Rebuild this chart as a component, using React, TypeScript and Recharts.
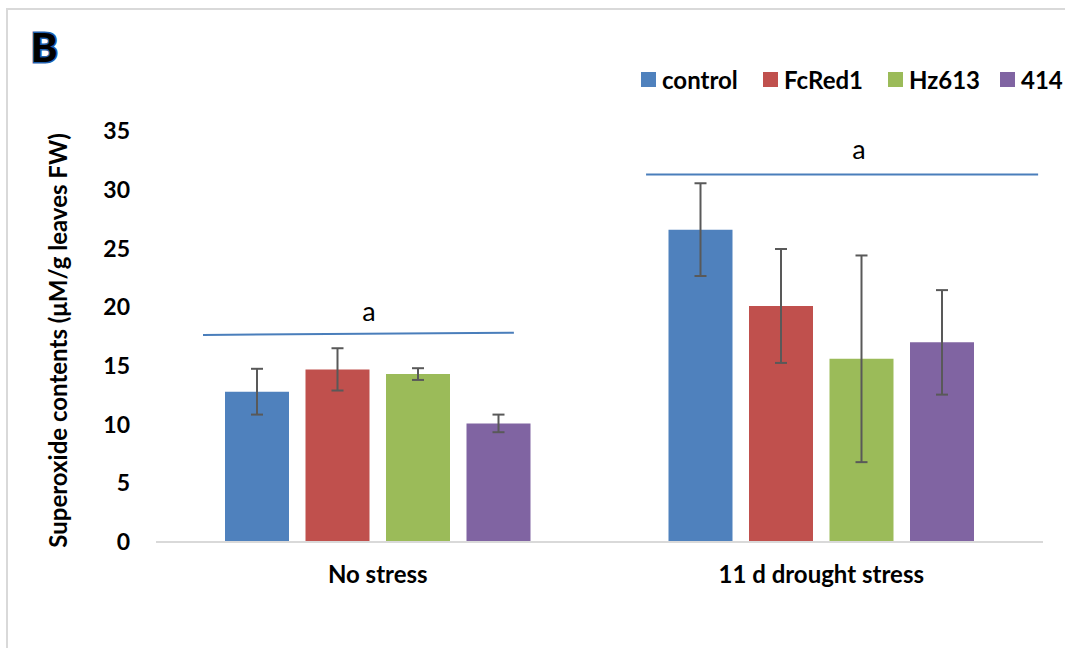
import React from 'react';
import { BarChart, Bar, XAxis, YAxis, ErrorBar, Legend, ReferenceLine, ReferenceDot } from 'recharts';

const categories = ['No stress', '11 d drought stress'];
const seriesNames = ['control', 'FcRed1', 'Hz613', '414'];
const controlValues = [12.8, 26.6];
const controlErrors = [1.95, 3.95];
const fcred1Values = [14.7, 20.1];
const fcred1Errors = [1.8, 4.85];
const hz613Values = [14.3, 15.6];
const hz613Errors = [0.5, 8.8];
const s414Values = [10.1, 17.0];
const s414Errors = [0.75, 4.45];
const yTicks = [0, 5, 10, 15, 20, 25, 30, 35];
const yLabel = 'Superoxide contents (μM/g leaves FW)';
const panelLetter = 'B';
const sigLetter = 'a';
// significance brackets, in (group position 0..2, value) units
const sigLines = [
  { x1: 0.106, y1: 17.63, x2: 0.807, y2: 17.82, lx: 0.48, ly: 19.67 },
  { x1: 1.105, y1: 31.3, x2: 1.989, y2: 31.3, lx: 1.585, ly: 33.47 },
];
const groupPositions = [0.5, 1.5];

const colors = ['#4f81bd', '#c0504d', '#9bbb59', '#8064a2'];
const legendItemWidths = [122, 125, 112, 60];
const FONT = 'Lato, "Open Sans", sans-serif';

const data = categories.map((c, i) => ({
  name: c,
  pos: groupPositions[i],
  control: controlValues[i],
  controlErr: controlErrors[i],
  FcRed1: fcred1Values[i],
  FcRed1Err: fcred1Errors[i],
  Hz613: hz613Values[i],
  Hz613Err: hz613Errors[i],
  s414: s414Values[i],
  s414Err: s414Errors[i],
}));

const keys = ['control', 'FcRed1', 'Hz613', 's414'];

const LegendContent = () => (
  <div style={{ display: 'flex', alignItems: 'center', fontFamily: FONT, fontWeight: 700, fontSize: 24, color: '#000', whiteSpace: 'nowrap' }}>
    {seriesNames.map((n, i) => (
      <div key={n} style={{ display: 'flex', alignItems: 'center', width: legendItemWidths[i] }}>
        <div style={{ width: 15, height: 15, background: colors[i], marginRight: 6, flexShrink: 0 }} />
        <span>{n}</span>
      </div>
    ))}
  </div>
);

const YLabel = (props: any) => {
  const vb = props.viewBox || {};
  const cx = vb.x - 39;
  const cy = vb.y + vb.height / 2 + 4;
  return (
    <text x={cx} y={cy} transform={`rotate(-90, ${cx}, ${cy})`} textAnchor="middle" dominantBaseline="central"
      style={{ fontFamily: FONT, fontWeight: 700, fontSize: 24, fill: '#000' }}>
      {yLabel}
    </text>
  );
};

export default function App() {
  return (
    <div style={{ position: 'absolute', left: 0, top: 0, width: 1065, height: 648, background: '#fff', overflow: 'hidden' }}>
      <div style={{ position: 'absolute', left: 6, top: 8, width: 1100, height: 700, borderLeft: '2px solid #d9d9d9', borderTop: '2px solid #d9d9d9' }} />
      <svg style={{ position: 'absolute', left: 0, top: 0 }} width={120} height={100}>
        <text x={31} y={62} style={{ fontFamily: FONT, fontWeight: 900, fontSize: 40, fill: '#000', stroke: '#1f5fae', strokeWidth: 3, paintOrder: 'stroke' }}>{panelLetter}</text>
      </svg>
      <BarChart width={1065} height={648} data={data} margin={{ top: 131, right: 22, bottom: 76, left: 96 }}
        barSize={64} barGap={16.5} style={{ position: 'absolute', left: 0, top: 0 }}>
        <XAxis dataKey="name" axisLine={{ stroke: '#d9d9d9', strokeWidth: 2 }} tickLine={false} height={30} tickMargin={18}
          tick={{ fontFamily: FONT, fontWeight: 700, fontSize: 24, fill: '#000' }} />
        <XAxis xAxisId="num" dataKey="pos" type="number" domain={[0, 2]} allowDataOverflow hide />
        <YAxis domain={[0, 35]} ticks={yTicks} axisLine={false} tickLine={false} width={60} tickMargin={20}
          tick={{ fontFamily: FONT, fontWeight: 700, fontSize: 23, fill: '#000' }} label={<YLabel />} />
        <Legend layout="vertical" align="center" verticalAlign="middle" content={<LegendContent />}
          wrapperStyle={{ top: 65, left: 641, width: 430, height: 30 }} />
        {keys.map((k, i) => (
          <Bar key={k} dataKey={k} name={seriesNames[i]} fill={colors[i]} isAnimationActive={false}>
            <ErrorBar dataKey={`${k}Err`} width={6} stroke="#595959" strokeWidth={2} direction="y" />
          </Bar>
        ))}
        {sigLines.map((s, i) => (
          <ReferenceLine key={`l${i}`} xAxisId="num" segment={[{ x: s.x1, y: s.y1 }, { x: s.x2, y: s.y2 }]}
            stroke="#4a7ebb" strokeWidth={2} ifOverflow="visible" />
        ))}
        {sigLines.map((s, i) => (
          <ReferenceDot key={`d${i}`} xAxisId="num" x={s.lx} y={s.ly} r={0} fill="none" stroke="none" ifOverflow="visible"
            label={{ value: sigLetter, position: 'center', fontFamily: FONT, fontSize: 27, fill: '#000' }} />
        ))}
      </BarChart>
    </div>
  );
}
